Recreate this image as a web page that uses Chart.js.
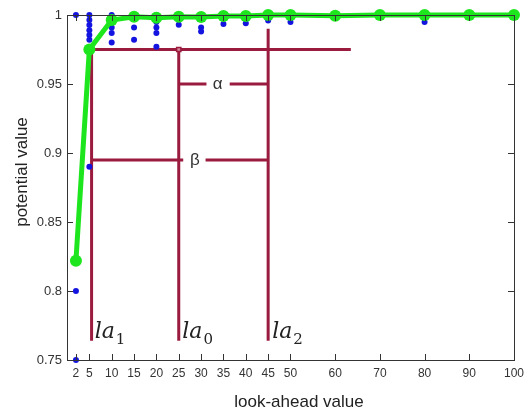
<!DOCTYPE html>
<html>
<head>
<meta charset="utf-8">
<script src="https://cdn.jsdelivr.net/npm/chart.js@4"></script>
<style>
  body { margin: 0; background: #fff; }
  #wrap { width: 530px; height: 413px; }
</style>
</head>
<body>
<div id="wrap"><canvas id="chart" width="530" height="413"></canvas></div>
<script>
// tick values
const xTickVals = [2, 5, 10, 15, 20, 25, 30, 35, 40, 45, 50, 60, 70, 80, 90, 100];
const yTickVals = [0.75, 0.8, 0.85, 0.9, 0.95, 1];

// individual runs (blue dots)
const runX = [2, 2, 2,
  5, 5, 5, 5, 5, 5, 5,
  10, 10, 10, 10, 10,
  15, 15,
  20, 20, 20, 20, 20,
  25, 30, 30, 35, 40, 45, 50, 80];
const runY = [1.0, 0.8, 0.75,
  1.0, 0.9964, 0.9928, 0.989, 0.9855, 0.982, 0.89,
  1.0, 0.995, 0.991, 0.987, 0.980,
  0.991, 0.982,
  1.0, 0.995, 0.991, 0.987, 0.977,
  0.993, 0.991, 0.988, 0.9935, 0.994, 0.996, 0.995, 0.995];

// mean potential value (green line)
const meanX = [2, 5, 10, 15, 20, 25, 30, 35, 40, 45, 50, 60, 70, 80, 90, 100];
const meanY = [0.822, 0.975, 0.9964, 0.9988, 0.998, 0.9988, 0.9985, 0.9993, 0.9993, 1.0, 1.0, 0.9995, 1.0, 1.0, 1.0, 1.0];

// annotation segments, in data units
const markSegs = [
  [[5.5, 0.975], [5.5, 0.764]],
  [[5.5, 0.975], [63.5, 0.975]],
  [[25, 0.975], [25, 0.764]],
  [[45, 0.99], [45, 0.764]],
  [[25, 0.95], [31.2, 0.95]],
  [[36.4, 0.95], [45, 0.95]],
  [[5.5, 0.895], [26, 0.895]],
  [[31, 0.895], [45, 0.895]]
];
const markLabels = [
  { text: 'la', sub: '1', x: 6.2, y: 0.766 },
  { text: 'la', sub: '0', x: 25.8, y: 0.766 },
  { text: 'la', sub: '2', x: 45.9, y: 0.766 }
];
const gapLabels = [
  { text: 'α', x: 33.7, y: 0.95 },
  { text: 'β', x: 28.6, y: 0.895 }
];

const maroon = '#9a1b3e';

const datasets = [
  {
    label: 'mean',
    data: meanX.map((x, i) => ({ x: x, y: meanY[i] })),
    showLine: true,
    borderColor: '#1ee61e',
    backgroundColor: '#1ee61e',
    borderWidth: 5,
    pointRadius: 6,
    pointBorderWidth: 0,
    clip: false,
    order: 0
  },
  {
    label: 'runs',
    data: runX.map((x, i) => ({ x: x, y: runY[i] })),
    showLine: false,
    backgroundColor: '#1414e0',
    borderColor: '#1414e0',
    pointRadius: 3,
    pointBorderWidth: 0,
    clip: false,
    order: 1
  },
  {
    label: 'la0 mark',
    data: [{ x: 25, y: 0.975 }],
    showLine: false,
    pointStyle: 'rect',
    pointRadius: 3,
    backgroundColor: '#d58a9c',
    borderColor: maroon,
    pointBorderWidth: 1.5,
    order: 1
  }
];
markSegs.forEach(function (seg, i) {
  datasets.push({
    label: 'seg' + i,
    data: seg.map(p => ({ x: p[0], y: p[1] })),
    showLine: true,
    borderColor: maroon,
    borderWidth: 3,
    pointRadius: 0,
    clip: false,
    order: 2
  });
});

const framePlugin = {
  id: 'frame',
  afterDatasetsDraw(chart) {
    const ctx = chart.ctx;
    const a = chart.chartArea;
    const xs = chart.scales.x, ys = chart.scales.y;
    ctx.save();

    // text annotations
    ctx.fillStyle = '#333';
    ctx.textAlign = 'center';
    ctx.textBaseline = 'middle';
    ctx.font = '17px "Liberation Sans", Arial, sans-serif';
    gapLabels.forEach(function (l) {
      ctx.fillText(l.text, xs.getPixelForValue(l.x), ys.getPixelForValue(l.y));
    });
    ctx.fillStyle = '#222';
    ctx.textAlign = 'left';
    ctx.textBaseline = 'alphabetic';
    markLabels.forEach(function (l) {
      const px = xs.getPixelForValue(l.x), py = ys.getPixelForValue(l.y);
      ctx.font = 'italic 22px "DejaVu Serif", serif';
      ctx.fillText(l.text, px, py);
      const w = ctx.measureText(l.text).width;
      ctx.font = '15px "DejaVu Serif", serif';
      ctx.fillText(l.sub, px + w + 1, py + 6);
    });

    // box frame
    ctx.strokeStyle = '#333';
    ctx.lineWidth = 1;
    ctx.strokeRect(Math.round(a.left) + 0.5, Math.round(a.top) + 0.5,
      Math.round(a.right - a.left), Math.round(a.bottom - a.top));

    // inward tick marks
    ctx.beginPath();
    xTickVals.forEach(function (v) {
      const px = Math.round(xs.getPixelForValue(v)) + 0.5;
      ctx.moveTo(px, a.bottom); ctx.lineTo(px, a.bottom - 6);
      ctx.moveTo(px, a.top); ctx.lineTo(px, a.top + 6);
    });
    yTickVals.forEach(function (v) {
      const py = Math.round(ys.getPixelForValue(v)) + 0.5;
      ctx.moveTo(a.left, py); ctx.lineTo(a.left + 6, py);
      ctx.moveTo(a.right, py); ctx.lineTo(a.right - 6, py);
    });
    ctx.stroke();

    // axis titles
    ctx.fillStyle = '#222';
    ctx.font = '17px "Liberation Sans", Arial, sans-serif';
    ctx.textAlign = 'center';
    ctx.textBaseline = 'middle';
    ctx.fillText('look-ahead value', 299, 402);
    ctx.translate(22, 172);
    ctx.rotate(-Math.PI / 2);
    ctx.fillText('potential value', 0, 0);
    ctx.restore();
  }
};

new Chart(document.getElementById('chart'), {
  type: 'scatter',
  data: { datasets: datasets },
  options: {
    responsive: false,
    animation: false,
    layout: { padding: { top: 15, right: 14, left: 0, bottom: 0 } },
    plugins: { legend: { display: false }, tooltip: { enabled: false } },
    scales: {
      x: {
        type: 'linear',
        min: 0,
        max: 100,
        afterBuildTicks: function (s) { s.ticks = xTickVals.map(v => ({ value: v })); },
        afterFit: function (s) { s.height = 53; },
        ticks: {
          autoSkip: false,
          maxRotation: 0,
          padding: 6,
          color: '#333',
          font: { family: '"Liberation Sans", Arial, sans-serif', size: 12 }
        },
        grid: { display: false, drawTicks: false },
        border: { display: false }
      },
      y: {
        type: 'linear',
        min: 0.75,
        max: 1,
        afterBuildTicks: function (s) { s.ticks = yTickVals.map(v => ({ value: v })); },
        afterFit: function (s) { s.width = 67; },
        ticks: {
          padding: 5,
          color: '#333',
          font: { family: '"Liberation Sans", Arial, sans-serif', size: 13 },
          callback: function (v) { return String(Number(v.toFixed(2))); }
        },
        grid: { display: false, drawTicks: false },
        border: { display: false }
      }
    }
  },
  plugins: [framePlugin]
});
</script>
</body>
</html>
